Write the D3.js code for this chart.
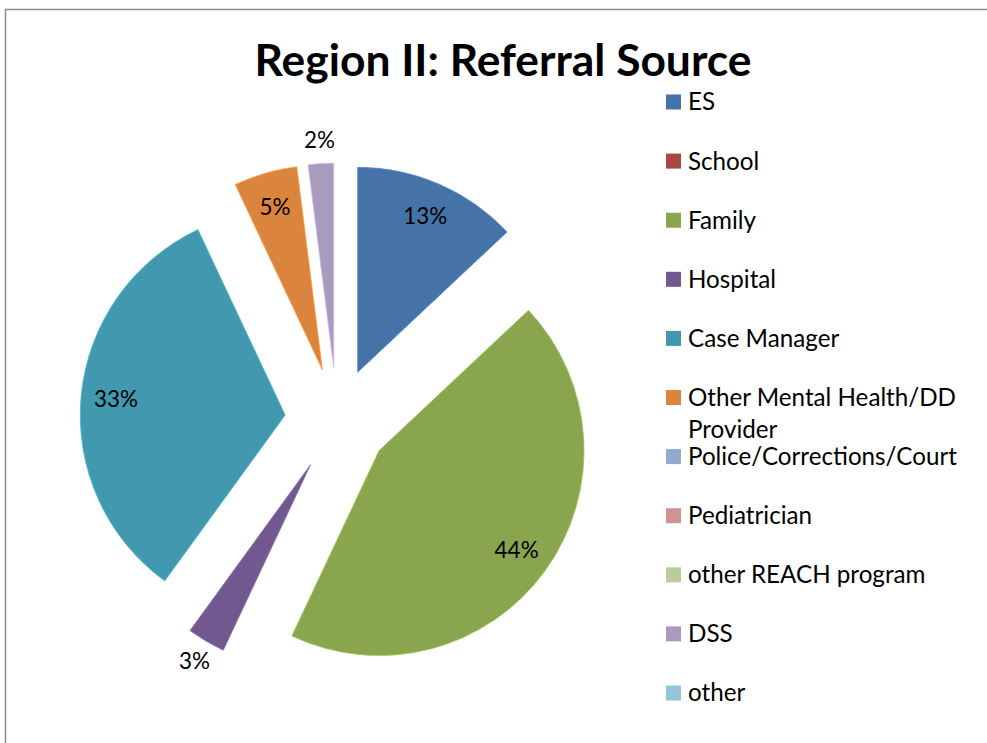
<!DOCTYPE html>
<html>
<head>
<meta charset="utf-8">
<script src="https://cdn.jsdelivr.net/npm/d3@7"></script>
<style>
  html, body { margin: 0; padding: 0; background: #fff; }
  svg { display: block; font-family: Lato, "Open Sans", sans-serif; }
</style>
</head>
<body>
<div id="chart"></div>
<script>
const categories = ['ES', 'School', 'Family', 'Hospital', 'Case Manager',
  'Other Mental Health/DD Provider', 'Police/Corrections/Court', 'Pediatrician',
  'other REACH program', 'DSS', 'other'];
const values = [13, 0, 44, 3, 33, 5, 0, 0, 0, 2, 0];
const colors = ['#4572A7', '#AA4643', '#89A54E', '#71588F', '#4198AF', '#DB843D',
  '#93A9CF', '#D19392', '#B9CD96', '#A99BBD', '#92C5D7'];
const title = 'Region II: Referral Source';

const width = 987, height = 743;
const cx = 337, cy = 420, radius = 205, explode = 52;

const svg = d3.select('#chart').append('svg')
  .attr('width', width).attr('height', height);

// chart area border (runs off the right and bottom)
svg.append('rect')
  .attr('x', 5.5).attr('y', 9.5)
  .attr('width', width + 20).attr('height', height + 20)
  .attr('fill', 'none').attr('stroke', '#8c8c8c').attr('stroke-width', 1.5);

// fit a text's font size so a string spans a given width
const fitSize = (str, weight, targetW) => {
  const t = svg.append('text').attr('font-size', 100).attr('font-weight', weight).text(str);
  const w = t.node().getComputedTextLength();
  t.remove();
  return 100 * targetW / w;
};

const titleSize = fitSize(title, 'bold', 497);
svg.append('text')
  .attr('x', 503).attr('y', 76)
  .attr('text-anchor', 'middle')
  .attr('font-size', titleSize)
  .attr('font-weight', 'bold')
  .attr('fill', '#000')
  .text(title);

const color = d3.scaleOrdinal().domain(categories).range(colors);
const total = d3.sum(values);
const data = categories.map((c, i) => ({ name: c, value: values[i] }));

const pie = d3.pie().sort(null).value(d => d.value);
const arcs = pie(data).filter(d => d.value > 0);

const arc = d3.arc().innerRadius(0).outerRadius(radius);
const midDir = d => {
  const a = (d.startAngle + d.endAngle) / 2;
  return [Math.sin(a), -Math.cos(a)];
};

const g = svg.append('g').attr('transform', `translate(${cx},${cy})`);

const slice = g.selectAll('.slice')
  .data(arcs)
  .enter().append('g')
    .attr('class', 'slice')
    .attr('transform', d => {
      const [dx, dy] = midDir(d);
      return `translate(${dx * explode},${dy * explode})`;
    });

slice.append('path')
  .attr('d', arc)
  .attr('fill', d => color(d.data.name))
  .attr('stroke', d => d3.color(color(d.data.name)).brighter(0.6))
  .attr('stroke-width', 0.8);

const labelSize = fitSize('13%', 'normal', 44);
slice.append('text')
  .attr('transform', d => {
    const [dx, dy] = midDir(d);
    const r = d.value / total < 0.04 ? 228 : 170;
    return `translate(${dx * r},${dy * r})`;
  })
  .attr('text-anchor', 'middle')
  .attr('dy', '0.35em')
  .attr('font-size', labelSize)
  .attr('fill', '#000')
  .text(d => Math.round(d.value / total * 100) + '%');

// legend
const legendSize = fitSize('Police/Corrections/Court', 'normal', 269);
const ly = d3.scalePoint().domain(categories).range([102, 693]);
const legend = svg.append('g').attr('class', 'legend');

const wrap = (str, maxW) => {
  const words = str.split(' ');
  const lines = [];
  let line = '';
  const t = svg.append('text').attr('font-size', legendSize);
  words.forEach(w => {
    const test = line ? line + ' ' + w : w;
    t.text(test);
    if (t.node().getComputedTextLength() > maxW && line) {
      lines.push(line);
      line = w;
    } else {
      line = test;
    }
  });
  lines.push(line);
  t.remove();
  return lines;
};

const item = legend.selectAll('.item')
  .data(categories)
  .enter().append('g')
    .attr('class', 'item')
    .attr('transform', d => `translate(0,${ly(d)})`);

item.append('rect')
  .attr('x', 666).attr('y', -7.5)
  .attr('width', 15).attr('height', 15)
  .attr('fill', d => color(d));

item.append('text')
  .attr('x', 688)
  .attr('font-size', legendSize)
  .attr('fill', '#000')
  .each(function(d) {
    const lines = wrap(d, 275);
    d3.select(this).selectAll('tspan')
      .data(lines)
      .enter().append('tspan')
        .attr('x', 688)
        .attr('y', (l, i) => i * 32)
        .attr('dy', '0.35em')
        .text(l => l);
  });
</script>
</body>
</html>
